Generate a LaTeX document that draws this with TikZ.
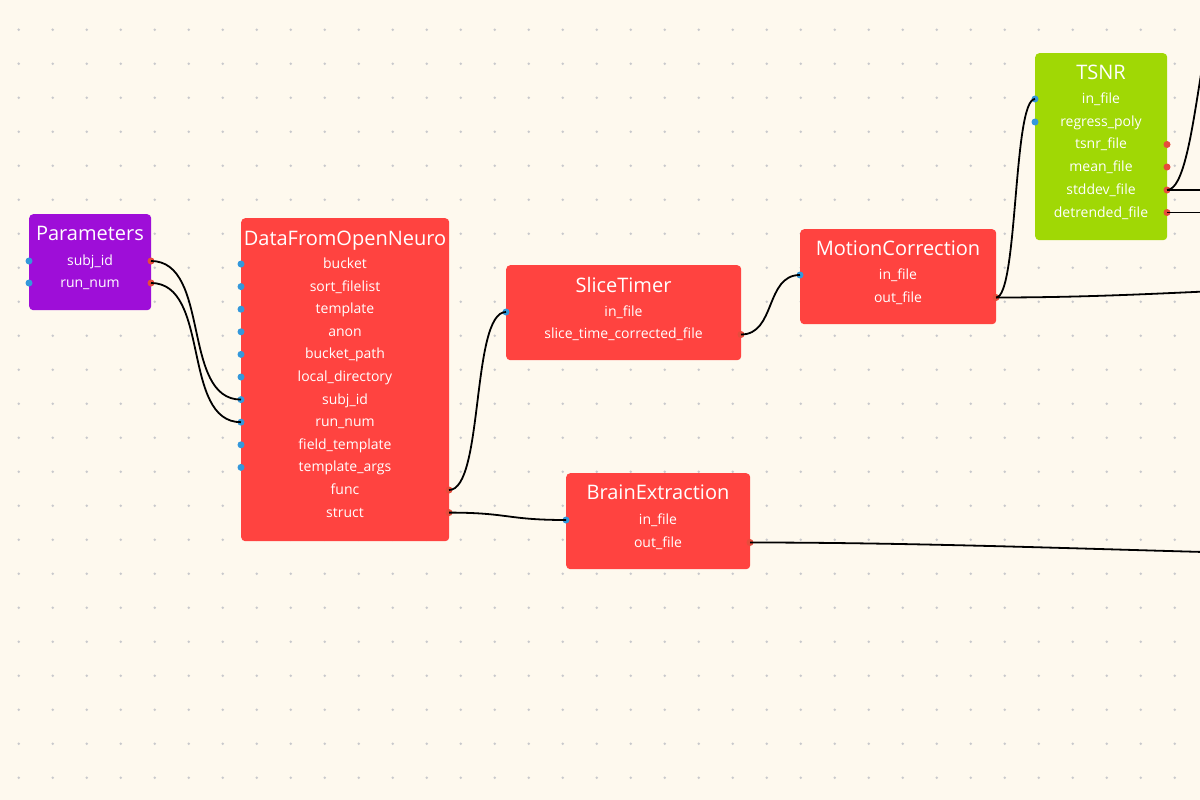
\documentclass[tikz,border=0pt]{standalone}
\usepackage{fontspec}
\setmainfont{Open Sans}
\definecolor{bg}{HTML}{FEF9EE}
\definecolor{griddot}{HTML}{C9C9CC}
\definecolor{nodered}{HTML}{FF4340}
\definecolor{nodepurple}{HTML}{9E0ED8}
\definecolor{nodegreen}{HTML}{A0D805}
\definecolor{portblue}{HTML}{3498DB}
\definecolor{portred}{HTML}{E74C3C}
\begin{document}
\begin{tikzpicture}[x=1pt,y=-1pt,
  box/.style={rounded corners=4pt, draw=none, anchor=north west, inner sep=0pt},
  ttl/.style={text=white, font=\fontsize{20}{22}\selectfont, inner sep=0pt, anchor=base},
  lbl/.style={text=white, font=\fontsize{14}{16}\selectfont, inner sep=0pt, anchor=base},
  inport/.style={circle, fill=portblue, minimum size=7pt, inner sep=0pt},
  outport/.style={circle, fill=portred, minimum size=7pt, inner sep=0pt},
  wire/.style={draw=black, line width=1.8pt}
]
\fill[bg] (0,0) rectangle (1200,800);
\useasboundingbox (0,0) rectangle (1200,800);
\foreach \i in {0,...,35}{\foreach \j in {0,...,23}{\fill[griddot] (18.7+34*\i,29.7+34*\j) circle (1.4);}}

% Parameters
\node[box, fill=nodepurple, minimum width=122pt, minimum height=96pt] (P) at (29,214) {};
\node[ttl] (Pt) at (90,240) {Parameters};
\node[lbl] (Pl1) at (90,265.5) {subj\_id};
\node[lbl] (Pl2) at (90,287.5) {run\_num};
\node[inport] (Pi1) at (29,261) {};
\node[inport] (Pi2) at (29,283) {};
\node[outport] (Po1) at (151,261) {};
\node[outport] (Po2) at (151,283) {};

% DataFromOpenNeuro
\node[box, fill=nodered, minimum width=208pt, minimum height=323pt] (D) at (241,218) {};
\node[ttl] (Dt) at (345,245) {DataFromOpenNeuro};
\foreach \k/\t in {0/bucket,1/sort\_filelist,2/template,3/anon,4/bucket\_path,5/local\_directory,6/subj\_id,7/run\_num,8/field\_template,9/template\_args,10/func,11/struct}{
  \node[lbl] (Dl\k) at (345,268.5+22.6*\k) {\t};
}
\foreach \k in {0,...,9}{\node[inport] (Di\k) at (241,264+22.6*\k) {};}
\node[outport] (Dfunc) at (449,490) {};
\node[outport] (Dstruct) at (449,512.6) {};

% SliceTimer
\node[box, fill=nodered, minimum width=235pt, minimum height=95pt] (S) at (506,265) {};
\node[ttl] (St) at (623.5,292) {SliceTimer};
\node[lbl] (Sl1) at (623.5,316) {in\_file};
\node[lbl] (Sl2) at (623.5,338.5) {slice\_time\_corrected\_file};
\node[inport] (Si) at (506,312) {};
\node[outport] (So) at (741,334.5) {};

% BrainExtraction
\node[box, fill=nodered, minimum width=184pt, minimum height=96pt] (B) at (566,473) {};
\node[ttl] (Bt) at (658,499) {BrainExtraction};
\node[lbl] (Bl1) at (658,524.5) {in\_file};
\node[lbl] (Bl2) at (658,547) {out\_file};
\node[inport] (Bi) at (566,520) {};
\node[outport] (Bo) at (750,542.5) {};

% MotionCorrection
\node[box, fill=nodered, minimum width=196pt, minimum height=95pt] (M) at (800,229) {};
\node[ttl] (Mt) at (898,255) {MotionCorrection};
\node[lbl] (Ml1) at (898,279.5) {in\_file};
\node[lbl] (Ml2) at (898,302) {out\_file};
\node[inport] (Mi) at (800,275) {};
\node[outport] (Mo) at (996,297.5) {};

% TSNR
\node[box, fill=nodegreen, minimum width=132pt, minimum height=187pt] (T) at (1035,53) {};
\node[ttl] (Tt) at (1101,80) {TSNR};
\foreach \k/\t in {0/in\_file,1/regress\_poly,2/tsnr\_file,3/mean\_file,4/stddev\_file,5/detrended\_file}{
  \node[lbl] (Tl\k) at (1101,103.5+22.7*\k) {\t};
}
\node[inport] (Ti0) at (1035,99) {};
\node[inport] (Ti1) at (1035,122) {};
\node[outport] (To2) at (1167,144.5) {};
\node[outport] (To3) at (1167,167) {};
\node[outport] (To4) at (1167,190) {};
\node[outport] (To5) at (1167,212.5) {};

% off-picture ends
\coordinate (ex1) at (1400,286);
\coordinate (ex2) at (1240,-40);
\coordinate (ex3) at (1300,190);
\coordinate (ex4) at (1300,212.5);
\coordinate (ex5) at (1500,557);

\begin{scope}
\clip (0,0) rectangle (1200,800);
\draw[wire] (Po1.center) .. controls +(60,0) and +(-60,0) .. (Di6.center);
\draw[wire] (Po2.center) .. controls +(60,0) and +(-60,0) .. (Di7.center);
\draw[wire] (Dfunc.center) .. controls +(35,0) and +(-35,0) .. (Si.center);
\draw[wire] (Dstruct.center) .. controls +(60,0) and +(-60,0) .. (Bi.center);
\draw[wire] (So.center) .. controls +(35,0) and +(-35,0) .. (Mi.center);
\draw[wire] (Mo.center) .. controls +(22,0) and +(-22,0) .. (Ti0.center);
\draw[wire] (Mo.center) .. controls +(154,0) and +(-150,0) .. (ex1);
\draw[wire] (To4.center) .. controls +(33,0) and +(-40,0) .. (ex2);
\draw[wire] (To4.center) -- (ex3);
\draw[wire] (To5.center) -- (ex4);
\draw[wire] (Bo.center) .. controls +(250,0) and +(-250,0) .. (ex5);
\end{scope}
\end{tikzpicture}
\end{document}
